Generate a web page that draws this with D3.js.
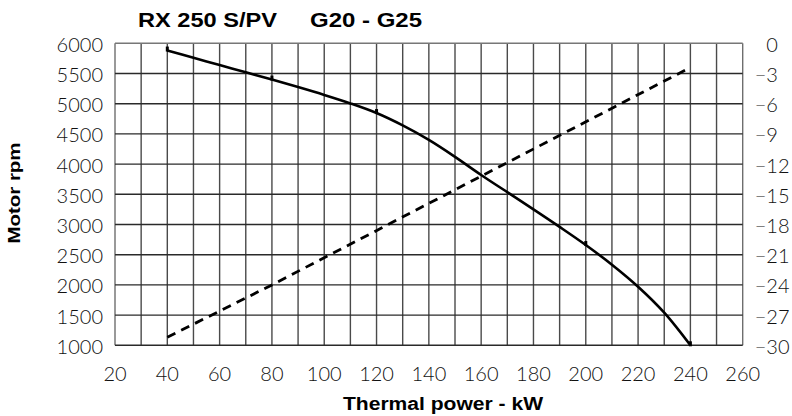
<!DOCTYPE html>
<html>
<head>
<meta charset="utf-8">
<script src="https://cdn.jsdelivr.net/npm/d3@7/dist/d3.min.js"></script>
<style>
  html, body { margin: 0; padding: 0; background: #fff; }
  svg { display: block; }
  .tick-label { font-family: Lato, "Open Sans", sans-serif; font-weight: 300; font-size: 20px; fill: #111; }
  .bold { font-family: "Liberation Sans", Arial, sans-serif; font-weight: bold; fill: #000; }
</style>
</head>
<body>
<svg id="chart" width="792" height="416"></svg>
<script>
// Thermal power (kW) axis ticks
const powerTicks = [20, 40, 60, 80, 100, 120, 140, 160, 180, 200, 220, 240, 260];
// Motor speed (rpm) axis ticks
const rpmTicks = [1000, 1500, 2000, 2500, 3000, 3500, 4000, 4500, 5000, 5500, 6000];
// Right-hand axis ticks
const rightTicks = [0, -3, -6, -9, -12, -15, -18, -21, -24, -27, -30];

// Motor rpm versus thermal power (solid curve)
const curvePower = [40, 50, 60, 70, 80, 90, 100, 110, 120, 130, 140, 150, 160, 170, 180, 190, 200, 210, 220, 230, 240];
const curveRpm   = [5880, 5760, 5640, 5520, 5400, 5275, 5145, 5005, 4845, 4640, 4400, 4120, 3820, 3535, 3250, 2960, 2660, 2335, 1970, 1540, 1000];
// Marked points on the rpm curve
const markPower = [40, 80, 120, 200, 240];

// Right-axis quantity versus thermal power (dashed line)
const dashPower = [40, 80, 160, 240];
const dashValue = [-29.2, -24.0, -13.2, -2.4];

const svg = d3.select("#chart");

const x = d3.scaleLinear().domain([20, 260]).range([115, 742.7]);
const y = d3.scaleLinear().domain([1000, 6000]).range([345.3, 43.3]);
const y2 = d3.scaleLinear().domain([-30, 0]).range([345.3, 43.3]);

// Grid: vertical lines every 10 kW, horizontal every 500 rpm
const vGrid = d3.range(20, 261, 10);
svg.append("g").selectAll("line").data(vGrid).join("line")
  .attr("x1", d => x(d)).attr("x2", d => x(d))
  .attr("y1", y(6000)).attr("y2", y(1000))
  .attr("stroke", d => (d === 20 || d === 260) ? "#6e6e6e" : "#4a4a4a")
  .attr("stroke-width", 1.4);

svg.append("g").selectAll("line").data(rpmTicks).join("line")
  .attr("x1", x(20)).attr("x2", x(260))
  .attr("y1", d => y(d)).attr("y2", d => y(d))
  .attr("stroke", d => d === 6000 ? "#777" : "#2a2a2a")
  .attr("stroke-width", 1.4);

// Left axis labels
svg.append("g").selectAll("text").data(rpmTicks).join("text")
  .attr("class", "tick-label")
  .attr("x", x(20) - 12).attr("y", d => y(d))
  .attr("dy", "0.42em")
  .attr("text-anchor", "end")
  .text(d => d);

// Bottom axis labels
svg.append("g").selectAll("text").data(powerTicks).join("text")
  .attr("class", "tick-label")
  .attr("x", d => x(d)).attr("y", y(1000) + 36)
  .attr("text-anchor", "middle")
  .text(d => d);

// Right axis labels, minus sign hanging to the left of the digits
const fmt = d => d < 0 ? "\u2212" + Math.abs(d) : String(d);
const probe = svg.append("text").attr("class", "tick-label").text("\u2212");
const minusW = probe.node().getComputedTextLength();
probe.remove();
svg.append("g").selectAll("text").data(rightTicks).join("text")
  .attr("class", "tick-label")
  .attr("x", d => x(260) + 12 + (d < 0 ? 0 : minusW))
  .attr("y", d => y2(d))
  .attr("dy", "0.42em")
  .attr("text-anchor", "start")
  .text(fmt);

// Dashed line on the right axis
const dashLine = d3.line().x(d => x(d[0])).y(d => y2(d[1]));
svg.append("path")
  .datum(dashPower.map((p, i) => [p, dashValue[i]]))
  .attr("d", dashLine)
  .attr("fill", "none")
  .attr("stroke", "#000")
  .attr("stroke-width", 2.8)
  .attr("stroke-dasharray", "9,6.5");

// Solid rpm curve
const rpmLine = d3.line().x(d => x(d[0])).y(d => y(d[1])).curve(d3.curveCatmullRom.alpha(0.5));
const rpmData = curvePower.map((p, i) => [p, curveRpm[i]]);
svg.append("path")
  .datum(rpmData)
  .attr("d", rpmLine)
  .attr("fill", "none")
  .attr("stroke", "#000")
  .attr("stroke-width", 2.6);

// Point marks on the rpm curve
const rpmAt = p => curveRpm[curvePower.indexOf(p)];
svg.append("g").selectAll("rect").data(markPower).join("rect")
  .attr("x", d => x(d) - 1.5)
  .attr("y", d => y(rpmAt(d)) - 4)
  .attr("width", 3).attr("height", 5)
  .attr("fill", "#000");

// Title
svg.append("text").attr("class", "bold")
  .attr("x", 138).attr("y", 26.7)
  .attr("font-size", 19.5)
  .attr("textLength", 139).attr("lengthAdjust", "spacingAndGlyphs")
  .text("RX 250 S/PV");
svg.append("text").attr("class", "bold")
  .attr("x", 310).attr("y", 26.7)
  .attr("font-size", 19.5)
  .attr("textLength", 112).attr("lengthAdjust", "spacingAndGlyphs")
  .text("G20 - G25");

// Axis titles
svg.append("text").attr("class", "bold")
  .attr("x", 343).attr("y", 410)
  .attr("font-size", 17.5)
  .attr("textLength", 200).attr("lengthAdjust", "spacingAndGlyphs")
  .text("Thermal power - kW");

svg.append("text").attr("class", "bold")
  .attr("transform", "translate(20,193) rotate(-90)")
  .attr("text-anchor", "middle")
  .attr("font-size", 17)
  .attr("textLength", 101).attr("lengthAdjust", "spacingAndGlyphs")
  .text("Motor rpm");
</script>
</body>
</html>
